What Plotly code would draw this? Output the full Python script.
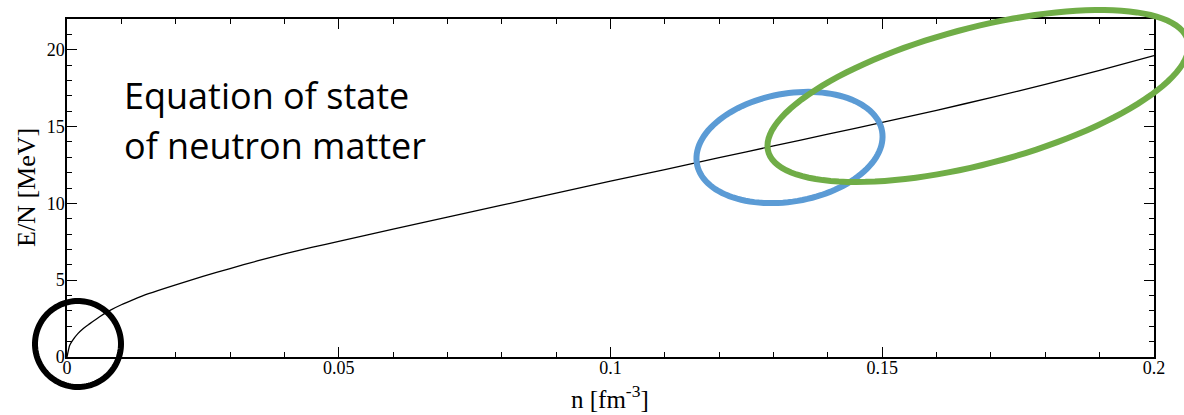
import numpy as np
import plotly.graph_objects as go

# ---- data ----
density = [0, 0.0005, 0.001, 0.002, 0.003, 0.004, 0.006, 0.008, 0.01, 0.012, 0.015, 0.02, 0.025,
           0.03, 0.035, 0.04, 0.045, 0.05, 0.06, 0.07, 0.08, 0.09, 0.1, 0.11, 0.12, 0.13, 0.14,
           0.15, 0.16, 0.17, 0.18, 0.19, 0.2]
energy = [0, 0.76, 1.07, 1.52, 1.86, 2.12, 2.62, 3.05, 3.4, 3.7, 4.12, 4.7, 5.24,
          5.76, 6.25, 6.71, 7.13, 7.53, 8.32, 9.1, 9.88, 10.66, 11.44, 12.2, 12.97, 13.74, 14.5,
          15.27, 16.06, 16.88, 17.74, 18.66, 19.62]

x_ticks = [0, 0.05, 0.1, 0.15, 0.2]
x_tick_labels = ["0", "0.05", "0.1", "0.15", "0.2"]
y_ticks = [0, 5, 10, 15, 20]
y_tick_labels = ["0", "5", "10", "15", "20"]

title_lines = ["Equation of state", "of neutron matter"]

# ---- layout geometry ----
W, H = 1184, 415
ML, MR, MT, MB = 67, 30, 19, 58
PW, PH = W - ML - MR, H - MT - MB


def px2paper(X, Y):
    return (X - ML) / PW, (H - MB - Y) / PH


def ellipse_path(cx, cy, a, b, theta_deg, n=120):
    th = np.radians(theta_deg)
    t = np.linspace(0, 2 * np.pi, n)
    xs = cx + a * np.cos(t) * np.cos(th) + b * np.sin(t) * np.sin(th)
    ys = cy - a * np.cos(t) * np.sin(th) + b * np.sin(t) * np.cos(th)
    pts = [px2paper(X, Y) for X, Y in zip(xs, ys)]
    return "M " + " L ".join(f"{p[0]:.5f},{p[1]:.5f}" for p in pts) + " Z"


fig = go.Figure()
fig.add_trace(go.Scatter(x=density, y=energy, mode="lines",
                         line=dict(color="black", width=1.3, shape="spline", smoothing=0.6),
                         hoverinfo="skip", showlegend=False))

serif = "Liberation Serif"
tick_font = dict(family=serif, size=18, color="black")
axis_common = dict(showline=True, linecolor="black", linewidth=1.5, mirror="ticks",
                   ticks="inside", ticklen=10, tickwidth=1.3, tickcolor="black",
                   showgrid=False, zeroline=False, tickfont=tick_font)

fig.update_xaxes(range=[0, 0.2], tickmode="array", tickvals=x_ticks, ticktext=x_tick_labels,
                 ticklabelstandoff=-6,
                 minor=dict(dtick=0.01, ticks="inside", ticklen=5, tickwidth=1.3,
                            tickcolor="black", showgrid=False),
                 **axis_common)
fig.update_yaxes(range=[0, 22], tickmode="array", tickvals=y_ticks, ticktext=y_tick_labels,
                 ticklabelstandoff=-3,
                 minor=dict(dtick=1, ticks="inside", ticklen=5, tickwidth=1.3,
                            tickcolor="black", showgrid=False),
                 **axis_common)

shapes = [
    dict(type="path", xref="paper", yref="paper",
         path=ellipse_path(78, 344, 43, 43, 0), line=dict(color="black", width=6)),
    dict(type="path", xref="paper", yref="paper",
         path=ellipse_path(789.5, 147.5, 94, 54, 10), line=dict(color="#5B9BD5", width=6)),
    dict(type="path", xref="paper", yref="paper",
         path=ellipse_path(978, 96, 217, 68, 14.8), line=dict(color="#70AD47", width=6)),
]

annotations = []
for i, line in enumerate(title_lines):
    xp, yp = px2paper(122, 95 + 50 * i)
    annotations.append(dict(text=line, xref="paper", yref="paper", x=xp, y=yp,
                            xanchor="left", yanchor="middle", showarrow=False,
                            font=dict(family="Open Sans", size=36, color="black")))

xp, yp = px2paper(610, 397)
annotations.append(dict(text="n [fm<sup>-3</sup>]", xref="paper", yref="paper", x=xp, y=yp,
                        xanchor="center", yanchor="middle", showarrow=False,
                        font=dict(family=serif, size=25, color="black")))
xp, yp = px2paper(26, 188)
annotations.append(dict(text="E/N [MeV]", xref="paper", yref="paper", x=xp, y=yp,
                        xanchor="center", yanchor="middle", showarrow=False, textangle=-90,
                        font=dict(family=serif, size=26, color="black")))

fig.update_layout(width=W, height=H, margin=dict(l=ML, r=MR, t=MT, b=MB),
                  font=dict(family=serif, size=18, color="black"),
                  plot_bgcolor="white", paper_bgcolor="white",
                  shapes=shapes, annotations=annotations, showlegend=False)

fig.write_html("out.html", config={"displayModeBar": False},
               post_script="document.body.style.margin='0px';document.body.style.overflow='hidden';")
